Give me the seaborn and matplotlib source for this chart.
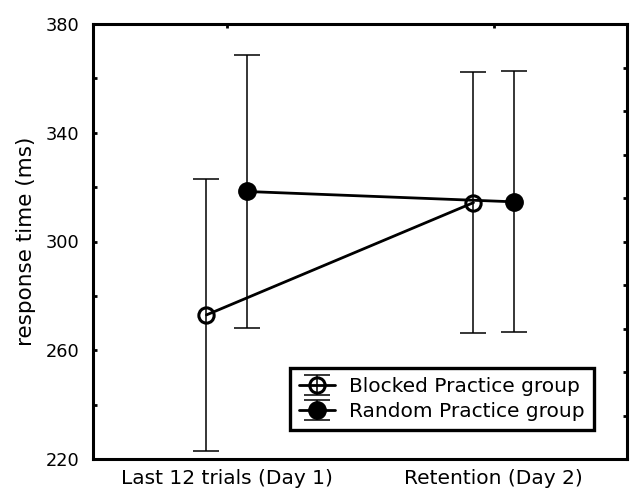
import matplotlib
matplotlib.use("Agg")
import matplotlib.pyplot as plt
import seaborn as sns
import numpy as np

categories = ["Last 12 trials (Day 1)", "Retention (Day 2)"]
blocked_mean = [273.0, 314.3]
blocked_err = [50.0, 48.0]
random_mean = [318.4, 314.6]
random_err = [50.2, 48.0]
series_labels = ["Blocked Practice group", "Random Practice group"]

sns.set_theme(style="white")
plt.rcParams["font.family"] = ["DejaVu Sans"]
plt.rcParams["text.color"] = "black"
plt.rcParams["axes.labelcolor"] = "black"

fig = plt.figure(figsize=(6.32, 4.96), dpi=100)
ax = fig.add_axes([93 / 632, 37 / 496, 534 / 632, 435 / 496])

x = np.arange(len(categories))
off = 0.075

c1 = ax.errorbar(x - off, blocked_mean, yerr=blocked_err, color="black", lw=2.0,
                 marker="o", ms=11, mfc="none", mec="black",
                 ecolor="black", elinewidth=1.1, capsize=9.5, capthick=1.1,
                 label=series_labels[0], zorder=3)
c1[0].set_markeredgewidth(2.2)
c2 = ax.errorbar(x + off, random_mean, yerr=random_err, color="black", lw=2.0,
                 marker="o", ms=12.5, mfc="black", mec="black",
                 ecolor="black", elinewidth=1.1, capsize=9.5, capthick=1.1,
                 label=series_labels[1], zorder=3)

ax.set_xlim(-0.5, 1.5)
ax.set_ylim(220, 380)
ax.set_xticks(x)
ax.set_xticklabels(categories, fontsize=14.5)
ax.set_yticks(np.arange(220, 381, 40))
ax.set_yticks(np.arange(240, 380, 40), minor=True)
ax.tick_params(axis="y", which="both", direction="in", length=3, width=2,
               labelsize=12.8, pad=10, colors="black")
ax.tick_params(axis="x", which="both", direction="in", length=3, width=2,
               labelsize=14.5, pad=7, top=True, colors="black")
ax.set_ylabel("response time (ms)", fontsize=15.5, labelpad=7)

for s in ax.spines.values():
    s.set_linewidth(2.2)
    s.set_color("black")

ax2 = ax.twinx()
ax2.set_ylim(0, 10)
ax2.set_yticks(np.arange(1, 10))
ax2.set_yticklabels([])
ax2.tick_params(axis="y", direction="in", length=3, width=2, colors="black")
for s in ax2.spines.values():
    s.set_visible(False)

leg = ax.legend(loc="lower right", bbox_to_anchor=((594 - 93) / 534, (459 - 430) / 435),
                borderaxespad=0, fancybox=False, frameon=True, fontsize=14.5,
                handlelength=1.8, handletextpad=0.7, borderpad=0.45, labelspacing=0.3,
                framealpha=1)
leg.get_frame().set_edgecolor("black")
leg.get_frame().set_linewidth(2.4)

fig.savefig("out.png", dpi=100)
